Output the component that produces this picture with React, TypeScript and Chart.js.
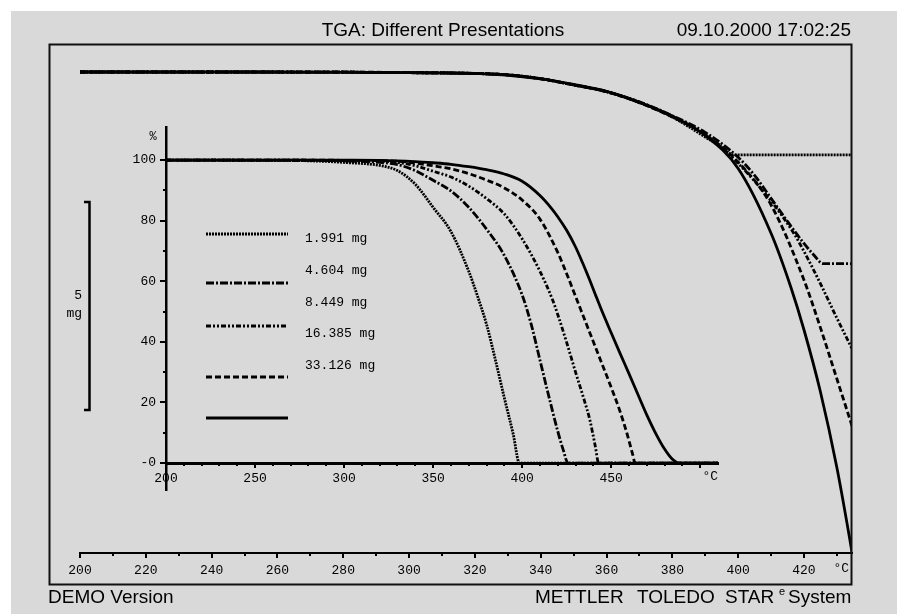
import { useEffect, useRef } from 'react';
import { Chart, registerables } from 'chart.js';

Chart.register(...registerables);

const PAGE_W = 897;
const PAGE_H = 614;

// ---- data -------------------------------------------------------------
const SAMPLE_LABELS = ['1.991 mg', '4.604 mg', '8.449 mg', '16.385 mg', '33.126 mg'];
const SAMPLE_MASSES = [1.991, 4.604, 8.449, 16.385, 33.126];

// temperature (°C) and remaining mass (%) for each sample
const TEMP_1991 = [200, 250, 280, 300, 320, 330, 340, 350, 360, 370, 375, 380, 385, 390, 395, 398.5, 510];
const PCT_1991 = [100, 99.9, 99.75, 99.2, 98.2, 96.5, 92, 84.4, 76.4, 63.3, 55, 45.8, 34, 21.5, 9.5, 0, 0];

const TEMP_4604 = [200, 250, 280, 300, 320, 330, 340, 350, 360, 370, 380, 390, 400, 405, 410, 415, 420, 423, 425.8, 510];
const PCT_4604 = [100, 100, 99.9, 99.7, 99.2, 98.5, 96.5, 93.3, 89.8, 84.4, 77.2, 68.5, 55.5, 46, 34, 22, 10.5, 4.5, 0, 0];

const TEMP_8449 = [200, 250, 280, 300, 320, 330, 340, 350, 360, 370, 380, 390, 400, 410, 417, 420, 425, 430, 435, 438, 441, 443, 510];
const PCT_8449 = [100, 100, 99.95, 99.8, 99.6, 99.2, 98.1, 96.3, 94.4, 91.4, 87.3, 82.2, 74, 63.3, 54, 49, 39.8, 30, 20.5, 14.3, 5.8, 0, 0];

const TEMP_16385 = [200, 250, 280, 300, 320, 330, 340, 350, 360, 370, 380, 390, 400, 410, 420, 425, 430, 435, 440, 445, 450, 455, 459, 462, 463.5, 510];
const PCT_16385 = [100, 100, 100, 99.9, 99.8, 99.6, 99, 98.1, 97.1, 95.5, 93.4, 90.8, 86.8, 80.5, 69.5, 62.5, 55, 47.5, 40, 32.5, 25, 17, 9.5, 3, 0, 0];

const TEMP_33126 = [200, 250, 300, 320, 340, 350, 360, 370, 380, 390, 400, 410, 416, 420, 425, 430, 434, 438, 441, 445, 450, 455, 460, 466, 470, 475, 480, 484, 488, 510];
const PCT_33126 = [100, 100, 99.95, 99.9, 99.5, 99.1, 98.6, 97.8, 96.8, 95.4, 93, 88.3, 84.4, 81.3, 76.8, 71.3, 66, 60.3, 55.8, 49.9, 43, 36.2, 29.5, 21.3, 15.9, 9.8, 4.6, 1.5, 0, 0];

const SAMPLE_TEMPS = [TEMP_1991, TEMP_4604, TEMP_8449, TEMP_16385, TEMP_33126];
const SAMPLE_PCTS = [PCT_1991, PCT_4604, PCT_8449, PCT_16385, PCT_33126];

// main plot: temperature ticks and mass range (mg, relative to start)
const MAIN_X_LABELS = [200, 220, 240, 260, 280, 300, 320, 340, 360, 380, 400, 420];
const MAIN_X_MINOR = [210, 230, 250, 270, 290, 310, 330, 350, 370, 390, 410, 430];
const MAIN_X_RANGE = [200, 434.6];
const MAIN_Y_RANGE = [-11.56, 0.673];
const SCALE_BAR_MG = 5;
const SCALE_BAR_TOP = -3.125;

// inset: temperature / percent ticks
const INSET_X_LABELS = [200, 250, 300, 350, 400, 450];
const INSET_X_EXTRA_MAJOR = [500];
const INSET_X_MINOR = [210, 220, 230, 240, 260, 270, 280, 290, 310, 320, 330, 340, 360, 370, 380, 390, 410, 420, 430, 440, 460, 470, 480, 490];
const INSET_X_RANGE = [200, 510];
const INSET_Y_VALUES = [0, 20, 40, 60, 80, 100];
const INSET_Y_LABELS = ['-0', '20', '40', '60', '80', '100'];
const INSET_Y_MINOR = [10, 30, 50, 70, 90];
const INSET_Y_RANGE = [-8.9, 110.9];

const TITLE = 'TGA: Different Presentations';
const TIMESTAMP = '09.10.2000 17:02:25';

// ---- styles ------------------------------------------------------------
const INK = '#000';
const PAPER = '#d9d9d9';
const LINE_DASHES = [[2, 1], [8, 2, 2, 2], [5, 2, 2, 2, 2, 2], [6, 3], []];
const LINE_WIDTH = 2.8;
const MONO = "'Liberation Mono', 'DejaVu Sans Mono', monospace";
const SANS = "'Liberation Sans', Arial, sans-serif";
const TICK_FONT = { family: MONO, size: 13 };

function text(ctx: CanvasRenderingContext2D, s: string, x: number, y: number, font: string, align: CanvasTextAlign = 'left') {
  ctx.save();
  ctx.font = font;
  ctx.fillStyle = INK;
  ctx.textAlign = align;
  ctx.textBaseline = 'middle';
  ctx.fillText(s, x, y);
  ctx.restore();
}

function hTicks(ctx: CanvasRenderingContext2D, scale: any, y0: number, values: number[], len: number) {
  ctx.save();
  ctx.strokeStyle = INK;
  ctx.lineWidth = 2;
  ctx.beginPath();
  values.forEach((v) => {
    const x = Math.round(scale.getPixelForValue(v));
    ctx.moveTo(x, y0);
    ctx.lineTo(x, y0 + len);
  });
  ctx.stroke();
  ctx.restore();
}

function vTicks(ctx: CanvasRenderingContext2D, scale: any, x0: number, values: number[], len: number) {
  ctx.save();
  ctx.strokeStyle = INK;
  ctx.lineWidth = 2;
  ctx.beginPath();
  values.forEach((v) => {
    const y = Math.round(scale.getPixelForValue(v));
    ctx.moveTo(x0, y);
    ctx.lineTo(x0 - len, y);
  });
  ctx.stroke();
  ctx.restore();
}

function lineStyle(i: number) {
  return {
    borderColor: INK,
    borderWidth: LINE_WIDTH,
    borderDash: LINE_DASHES[i],
    borderCapStyle: 'butt' as const,
    pointRadius: 0,
    fill: false,
    cubicInterpolationMode: 'monotone' as const,
  };
}

// ---- main plot: mass change in mg ---------------------------------------
const mainDecor = {
  id: 'mainDecor',
  beforeDraw(chart: any) {
    const ctx = chart.ctx as CanvasRenderingContext2D;
    ctx.save();
    ctx.fillStyle = '#fff';
    ctx.fillRect(0, 0, PAGE_W, PAGE_H);
    ctx.fillStyle = PAPER;
    ctx.fillRect(11, 11, PAGE_W - 11, PAGE_H - 11);
    ctx.restore();
  },
  afterDraw(chart: any) {
    const ctx = chart.ctx as CanvasRenderingContext2D;
    const xs = chart.scales.x;
    const ys = chart.scales.y;
    const area = chart.chartArea;

    // frame
    ctx.save();
    ctx.strokeStyle = '#111';
    ctx.lineWidth = 2;
    ctx.strokeRect(49.5, 44.5, 802, 540);
    ctx.restore();

    // header / footer
    text(ctx, TITLE, 443, 31, `19px ${SANS}`, 'center');
    text(ctx, TIMESTAMP, 851, 31, `19px ${SANS}`, 'right');
    text(ctx, 'DEMO Version', 48, 598, `19px ${SANS}`, 'left');
    text(ctx, 'METTLER', 535, 598, `19px ${SANS}`, 'left');
    text(ctx, 'TOLEDO', 637, 598, `19px ${SANS}`, 'left');
    text(ctx, 'STAR', 725, 598, `19px ${SANS}`, 'left');
    text(ctx, 'e', 779, 592, `11px ${SANS}`, 'left');
    text(ctx, 'System', 788, 598, `19px ${SANS}`, 'left');

    // x tick marks and unit
    hTicks(ctx, xs, area.bottom, MAIN_X_LABELS, 5);
    hTicks(ctx, xs, area.bottom, MAIN_X_MINOR, 3);
    text(ctx, '°C', 849, 569, `13px ${MONO}`, 'right');

    // mass scale bar
    const yTop = ys.getPixelForValue(SCALE_BAR_TOP);
    const yBot = ys.getPixelForValue(SCALE_BAR_TOP - SCALE_BAR_MG);
    ctx.save();
    ctx.strokeStyle = INK;
    ctx.lineWidth = 2.5;
    ctx.beginPath();
    ctx.moveTo(84, yTop);
    ctx.lineTo(89.5, yTop);
    ctx.lineTo(89.5, yBot);
    ctx.lineTo(84, yBot);
    ctx.stroke();
    ctx.restore();
    const yMid = (yTop + yBot) / 2;
    text(ctx, String(SCALE_BAR_MG), 82, yMid - 10, `13px ${MONO}`, 'right');
    text(ctx, 'mg', 82, yMid + 8, `13px ${MONO}`, 'right');
  },
};

function mainConfig(): any {
  return {
    type: 'line',
    data: {
      datasets: SAMPLE_TEMPS.map((temps, i) => ({
        label: SAMPLE_LABELS[i],
        data: temps.map((t, k) => ({ x: t, y: -SAMPLE_MASSES[i] * (1 - SAMPLE_PCTS[i][k] / 100) })),
        ...lineStyle(i),
      })),
    },
    options: {
      responsive: false,
      animation: false,
      events: [],
      layout: { padding: { left: 80, right: 45, top: 44, bottom: 0 } },
      plugins: { legend: { display: false }, tooltip: { enabled: false } },
      scales: {
        x: {
          type: 'linear',
          position: 'bottom',
          min: MAIN_X_RANGE[0],
          max: MAIN_X_RANGE[1],
          grid: { display: false, drawTicks: false },
          border: { display: true, color: INK, width: 2 },
          afterBuildTicks: (s: any) => { s.ticks = MAIN_X_LABELS.map((v) => ({ value: v })); },
          afterFit: (s: any) => { s.height = 61; },
          ticks: { font: TICK_FONT, color: INK, padding: 10, maxRotation: 0, autoSkip: false, callback: (v: any) => String(v) },
        },
        y: {
          type: 'linear',
          display: false,
          min: MAIN_Y_RANGE[0],
          max: MAIN_Y_RANGE[1],
        },
      },
    },
    plugins: [mainDecor],
  };
}

// ---- inset: remaining mass in % -----------------------------------------
const LEGEND_LINE_X = [206, 288];
const LEGEND_LINE_Y = [234, 283, 326, 377, 418];
const LEGEND_TEXT_X = 305;
const LEGEND_TEXT_Y = [239, 271, 303, 334, 366];

const insetDecor = {
  id: 'insetDecor',
  afterDraw(chart: any) {
    const ctx = chart.ctx as CanvasRenderingContext2D;
    const xs = chart.scales.x;
    const ys = chart.scales.y;
    const area = chart.chartArea;
    const y0 = ys.getPixelForValue(0);

    hTicks(ctx, xs, y0, [...INSET_X_LABELS, ...INSET_X_EXTRA_MAJOR], 5);
    hTicks(ctx, xs, y0, INSET_X_MINOR, 3);
    vTicks(ctx, ys, area.left, INSET_Y_VALUES, 6);
    vTicks(ctx, ys, area.left, INSET_Y_MINOR, 3);
    text(ctx, '°C', area.right, 477, `13px ${MONO}`, 'right');
    text(ctx, '%', 153, 137, `12px ${MONO}`, 'center');

    chart.data.datasets.forEach((ds: any, i: number) => {
      ctx.save();
      ctx.strokeStyle = ds.borderColor;
      ctx.lineWidth = ds.borderWidth;
      ctx.setLineDash(ds.borderDash);
      ctx.beginPath();
      ctx.moveTo(LEGEND_LINE_X[0], LEGEND_LINE_Y[i]);
      ctx.lineTo(LEGEND_LINE_X[1], LEGEND_LINE_Y[i]);
      ctx.stroke();
      ctx.restore();
      text(ctx, ds.label, LEGEND_TEXT_X, LEGEND_TEXT_Y[i], `13px ${MONO}`, 'left');
    });
  },
};

function insetConfig(): any {
  return {
    type: 'line',
    data: {
      datasets: SAMPLE_TEMPS.map((temps, i) => ({
        label: SAMPLE_LABELS[i],
        data: temps.map((t, k) => ({ x: t, y: SAMPLE_PCTS[i][k] })),
        ...lineStyle(i),
      })),
    },
    options: {
      responsive: false,
      animation: false,
      events: [],
      layout: { padding: { left: 106, right: 179, top: 127, bottom: 124 } },
      plugins: { legend: { display: false }, tooltip: { enabled: false } },
      scales: {
        x: {
          type: 'linear',
          position: { y: 0 },
          min: INSET_X_RANGE[0],
          max: INSET_X_RANGE[1],
          grid: { display: false, drawTicks: false },
          border: { display: true, color: INK, width: 3 },
          afterBuildTicks: (s: any) => { s.ticks = INSET_X_LABELS.map((v) => ({ value: v })); },
          ticks: { font: TICK_FONT, color: INK, padding: 8, maxRotation: 0, autoSkip: false, callback: (v: any) => String(v) },
        },
        y: {
          type: 'linear',
          position: 'left',
          min: INSET_Y_RANGE[0],
          max: INSET_Y_RANGE[1],
          grid: { display: false, drawTicks: false },
          border: { display: true, color: INK, width: 2.5 },
          afterBuildTicks: (s: any) => { s.ticks = INSET_Y_VALUES.map((v) => ({ value: v })); },
          afterFit: (s: any) => { s.width = 60; },
          ticks: {
            font: TICK_FONT,
            color: INK,
            padding: 10,
            autoSkip: false,
            callback: (v: any) => INSET_Y_LABELS[INSET_Y_VALUES.indexOf(v)] ?? '',
          },
        },
      },
    },
    plugins: [insetDecor],
  };
}

export default function App() {
  const mainRef = useRef<HTMLCanvasElement>(null);
  const insetRef = useRef<HTMLCanvasElement>(null);

  useEffect(() => {
    const main = new Chart(mainRef.current as HTMLCanvasElement, mainConfig());
    const inset = new Chart(insetRef.current as HTMLCanvasElement, insetConfig());
    return () => {
      main.destroy();
      inset.destroy();
    };
  }, []);

  return (
    <div style={{ position: 'fixed', left: 0, top: 0, width: PAGE_W, height: PAGE_H, background: '#fff' }}>
      <canvas ref={mainRef} width={PAGE_W} height={PAGE_H} style={{ position: 'absolute', left: 0, top: 0 }} />
      <canvas ref={insetRef} width={PAGE_W} height={PAGE_H} style={{ position: 'absolute', left: 0, top: 0 }} />
    </div>
  );
}
